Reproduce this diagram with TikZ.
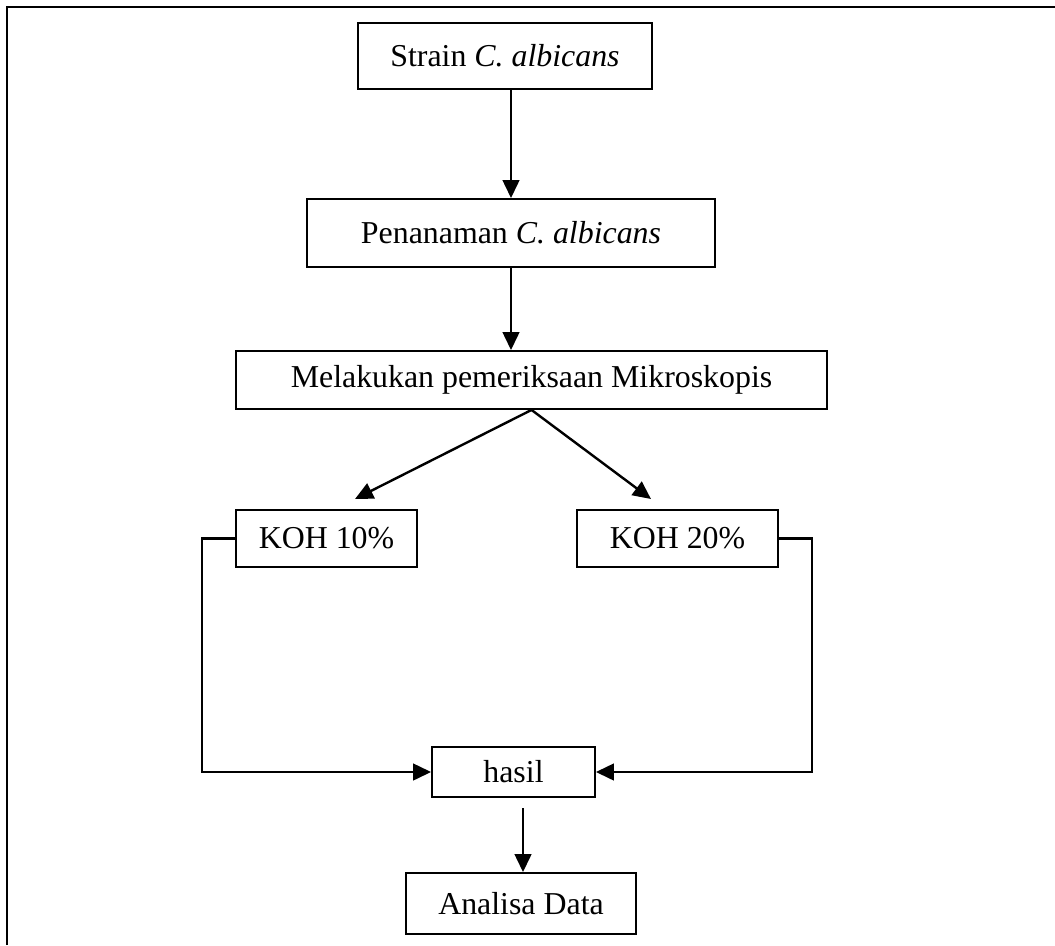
\documentclass[tikz,border=0pt]{standalone}
\usepackage{fontspec}
\setmainfont{Liberation Serif}
\usetikzlibrary{arrows.meta,calc}
\begin{document}
\begin{tikzpicture}[x=0.75pt,y=-0.75pt,
  box/.style={draw,line width=1.4pt,inner sep=0pt,font=\fontsize{23.9}{28}\selectfont},
  conn/.style={line width=1.8pt,-{Triangle[length=13.5pt,width=12.5pt]}},
  frame/.style={line width=2pt}]
\useasboundingbox (0,0) rectangle (1055,945);
\draw[frame] (7,945) -- (7,7) -- (1055,7);
\node[box,minimum width=220.5pt,minimum height=49.5pt] (strain) at (505,56) {Strain \textit{C. albicans}};
\node[box,minimum width=306pt,minimum height=51pt] (tanam) at (511,233) {Penanaman \textit{C. albicans}};
\node[box,minimum width=443.25pt,minimum height=43.5pt] (mikro) at (531.5,380) {Melakukan pemeriksaan Mikroskopis};
\node[box,minimum width=135.75pt,minimum height=42.75pt] (koha) at (326.5,538.5) {KOH 10\%};
\node[box,minimum width=150.75pt,minimum height=42.75pt] (kohb) at (677.5,538.5) {KOH 20\%};
\node[box,minimum width=122.25pt,minimum height=37.5pt] (hasil) at (513.5,772) {hasil};
\node[box,minimum width=172.5pt,minimum height=45.75pt] (analisa) at (521,903.5) {Analisa Data};
\coordinate (ta) at (355,499);
\coordinate (tb) at (651,499);
\coordinate (hs) at (523,808);
\draw[conn] (tanam.north |- strain.south) -- (tanam.north);
\draw[conn] (tanam.south) -- (tanam.south |- mikro.north);
\draw[conn] (mikro.south) -- (ta);
\draw[conn] (mikro.south) -- (tb);
\draw[conn] (koha.west) -- ++(-33,0) |- (hasil.west);
\draw[conn] (kohb.east) -- ++(33,0) |- (hasil.east);
\draw[conn] (hs) -- (hs |- analisa.north);
\end{tikzpicture}
\end{document}
